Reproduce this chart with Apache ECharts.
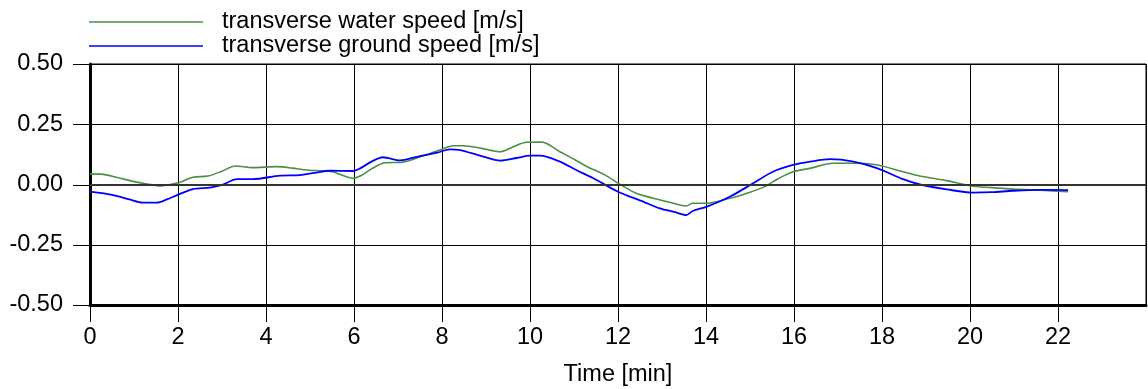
<!DOCTYPE html>
<html>
	<head>
		<meta charset="UTF-8">
		<title></title>
	</head>
	<body style="height: 100%; margin: 0">
		<div id="container" style="width: 1148px; height: 389px"></div>
		<script src="https://cdn.jsdelivr.net/npm/echarts@6/dist/echarts.min.js" type="text/javascript" charset="utf-8"></script>
		<script type="text/javascript">
			// time [min] and transverse speeds [m/s]
			var waterTime = [0, 0.3, 0.6, 1.0, 1.3, 1.6, 2.0, 2.34, 2.68, 3.0, 3.3, 3.7, 4.25, 4.6, 4.93, 5.5, 5.98, 6.14, 6.4, 6.7,
				7.11, 7.5, 7.95, 8.26, 8.48, 8.9, 9.32, 9.6, 9.92, 10.27, 10.68, 11.0, 11.3, 11.7, 12.05, 12.4, 12.8, 13.2, 13.55, 13.7,
				14.02, 14.55, 14.9, 15.3, 15.65, 15.98, 16.36, 16.89, 17.5, 17.9, 18.48, 18.86, 19.47, 20.0, 20.5, 20.98, 21.6, 22.23];
			var waterSpeed = [0.044, 0.042, 0.03, 0.012, 0.002, -0.006, 0.007, 0.03, 0.035, 0.055, 0.077, 0.07, 0.074, 0.068, 0.06, 0.053, 0.026, 0.035, 0.065, 0.09,
				0.093, 0.115, 0.143, 0.161, 0.161, 0.15, 0.136, 0.155, 0.175, 0.176, 0.136, 0.105, 0.074, 0.04, 0.0, -0.035, -0.057, -0.075, -0.089, -0.078,
				-0.078, -0.057, -0.038, -0.012, 0.025, 0.053, 0.067, 0.088, 0.088, 0.081, 0.053, 0.035, 0.016, -0.005, -0.013, -0.019, -0.024, -0.03];
			var groundTime = [0, 0.53, 0.9, 1.2, 1.52, 1.75, 1.98, 2.34, 2.73, 3.0, 3.34, 3.7, 4.32, 4.77, 5.1, 5.45, 5.98, 6.14, 6.4, 6.66,
				7.05, 7.43, 7.89, 8.18, 8.41, 8.9, 9.32, 9.7, 10.0, 10.23, 10.68, 11.05, 11.44, 12.0, 12.57, 12.95, 13.3, 13.55, 13.7, 14.02,
				14.55, 15.07, 15.52, 15.98, 16.4, 16.82, 17.35, 17.9, 18.48, 18.86, 19.47, 20.07, 20.5, 20.98, 21.6, 22.23];
			var groundSpeed = [-0.03, -0.044, -0.062, -0.075, -0.075, -0.062, -0.044, -0.019, -0.013, -0.002, 0.022, 0.022, 0.037, 0.039, 0.048, 0.057, 0.056, 0.067, 0.095, 0.113,
				0.10, 0.115, 0.132, 0.146, 0.143, 0.118, 0.099, 0.11, 0.12, 0.12, 0.095, 0.06, 0.026, -0.03, -0.071, -0.099, -0.115, -0.127, -0.11, -0.092,
				-0.05, 0.005, 0.053, 0.081, 0.096, 0.105, 0.095, 0.067, 0.022, 0.0, -0.02, -0.034, -0.032, -0.026, -0.022, -0.023];
			// labelled ticks (24 sits on the frame and carries no label)
			var timeTicks = [0, 2, 4, 6, 8, 10, 12, 14, 16, 18, 20, 22];
			var speedTicks = [-0.5, -0.25, 0, 0.25, 0.5];

			function pairs(xs, ys) {
				return xs.map(function (x, i) { return [x, ys[i]]; });
			}

			var font = 'Liberation Sans, Arial, sans-serif';
			var fs = 23.5;
			var tickLen = 17;
			var myChart = echarts.init(document.getElementById("container"));

			function legendFor(name, top) {
				return {
					data: [name],
					left: 89, top: top, padding: 0,
					icon: 'rect', itemWidth: 114, itemHeight: 1.5,
					textStyle: { fontSize: fs, color: '#000', fontFamily: font, padding: [0, 0, 0, 14] }
				};
			}

			var option = {
				animation: false,
				textStyle: { fontFamily: font },
				legend: [
					legendFor('transverse water speed [m/s]', 10),
					legendFor('transverse ground speed [m/s]', 34)
				],
				grid: {
					left: 90, right: 2, top: 64, bottom: 84,
					outerBoundsMode: 'none', containLabel: false,
					show: true, borderColor: '#000', borderWidth: 1
				},
				xAxis: {
					type: 'value', min: 0, max: 24, interval: 2,
					name: 'Time [min]', nameLocation: 'middle', nameGap: 58,
					nameTextStyle: { fontSize: fs, color: '#000', fontFamily: font },
					axisLine: { onZero: false, lineStyle: { color: '#000', width: 3 } },
					axisTick: { show: false },
					axisLabel: {
						margin: 21, fontSize: fs, color: '#000', fontFamily: font,
						customValues: timeTicks
					},
					splitLine: { lineStyle: { color: '#000', width: 1 } }
				},
				yAxis: {
					type: 'value', min: -0.5, max: 0.5, interval: 0.25,
					axisLine: { show: true, lineStyle: { color: '#000', width: 3 } },
					axisTick: { show: false },
					axisLabel: {
						margin: 27, fontSize: fs, color: '#000', fontFamily: font,
						formatter: function (v) { return v.toFixed(2); }
					},
					splitLine: { lineStyle: { color: '#000', width: 1 } }
				},
				series: [
					{
						name: 'transverse water speed [m/s]',
						type: 'line',
						data: pairs(waterTime, waterSpeed),
						smooth: 0.3,
						showSymbol: false,
						itemStyle: { color: '#4a8f45' },
						lineStyle: { color: '#4a8f45', width: 1.6 },
						markLine: {
							silent: true, symbol: 'none', label: { show: false },
							lineStyle: { color: '#333', width: 2, type: 'solid' },
							data: [{ yAxis: 0 }]
						}
					},
					{
						name: 'transverse ground speed [m/s]',
						type: 'line',
						data: pairs(groundTime, groundSpeed),
						smooth: 0.3,
						showSymbol: false,
						itemStyle: { color: '#0000ff' },
						lineStyle: { color: '#0000ff', width: 1.8 }
					}
				]
			};

			myChart.setOption(option);

			// outside ticks, placed with the chart's own scales
			var ticks = [];
			var finder = { xAxisIndex: 0, yAxisIndex: 0 };
			timeTicks.forEach(function (t) {
				var p = myChart.convertToPixel(finder, [t, -0.5]);
				var x = Math.round(p[0]) + 0.5;
				ticks.push({ type: 'line', silent: true, shape: { x1: x, y1: p[1], x2: x, y2: p[1] + tickLen },
					style: { stroke: '#000', lineWidth: 1 } });
			});
			speedTicks.forEach(function (v) {
				var p = myChart.convertToPixel(finder, [0, v]);
				var y = Math.round(p[1]) + 0.5;
				ticks.push({ type: 'line', silent: true, shape: { x1: p[0] - tickLen, y1: y, x2: p[0], y2: y },
					style: { stroke: '#000', lineWidth: 1 } });
			});
			myChart.setOption({ graphic: ticks });
		</script>
	</body>
</html>
